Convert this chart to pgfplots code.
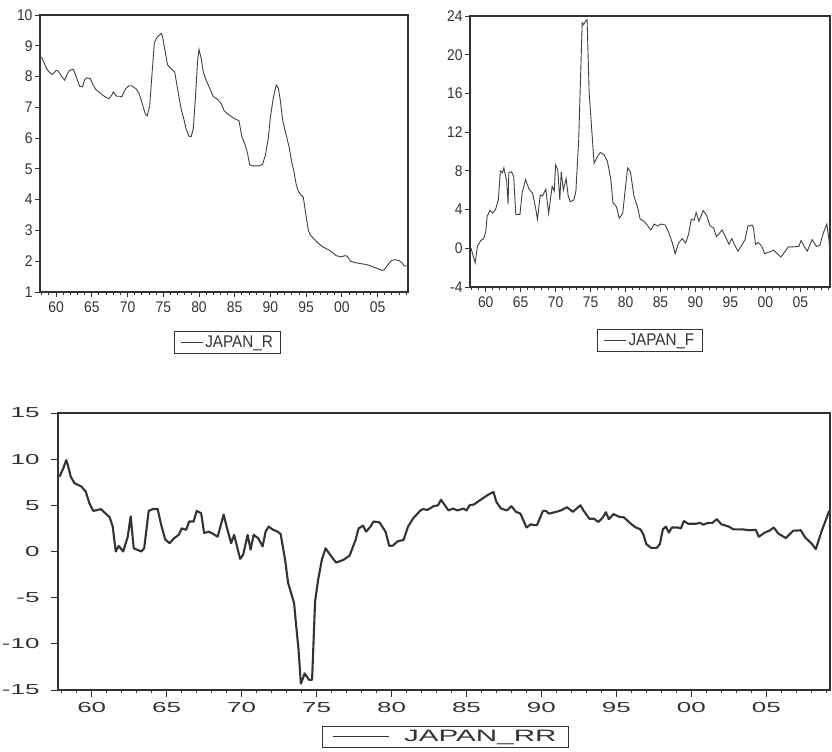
\documentclass[border=0pt]{standalone}
\usepackage{fontspec}
\setmainfont{Liberation Sans}
\newfontfamily\narrowfont[FakeStretch=0.9]{Liberation Sans}
\newfontfamily\widefont[FakeStretch=1.8]{Liberation Sans}
\usepackage{pgfplots}
\pgfplotsset{compat=1.18}

\definecolor{ink}{HTML}{333333}
\definecolor{trace}{HTML}{404040}

\pgfplotsset{
  ev/.style={
    scale only axis,
    anchor=south west,
    axis line style={ink, line width=1.1bp},
    tick align=outside,
    tick pos=left,
    xmin=1957.75, xmax=2009.25,
    xtick={1960,1965,...,2005},
    xticklabels={60,65,70,75,80,85,90,95,00,05},
    minor xtick={1958,...,2009},
    major tick length=5bp,
    minor tick length=3bp,
    every tick/.style={ink, line width=0.9bp},
    legend cell align=left,
  },
  evtop/.style={
    ev,
    tick label style={font=\narrowfont\fontsize{15.5}{15.5}\selectfont, text=ink},
    xticklabel style={yshift=-1bp},
    yticklabel style={xshift=1bp},
    legend style={draw=ink, line width=0.8bp, anchor=north,
      font=\narrowfont\fontsize{17}{17}\selectfont, text=ink,
      inner xsep=6bp, inner ysep=2.5bp},
    legend image code/.code={\draw[trace, line width=0.8bp] (0bp,0bp) -- (22bp,0bp);},
  },
  evbottom/.style={
    ev,
    major tick length=7bp,
    tick label style={font=\widefont\fontsize{14.5}{14.5}\selectfont, text=ink},
    yticklabel style={xshift=-8bp},
    xticklabel style={yshift=-2bp},
    legend style={draw=ink, line width=1bp, anchor=north,
      font=\widefont\fontsize{16.5}{16.5}\selectfont, text=ink,
      inner xsep=10bp, inner ysep=2bp},
    legend image code/.code={\draw[ink, line width=1bp] (0bp,0bp) -- (56bp,0bp);
      \path (68bp,0bp);},
  },
}

\begin{document}
\begin{tikzpicture}
\useasboundingbox (0bp,0bp) rectangle (832bp,752bp);

% ---------- interest rate ----------
\begin{axis}[evtop, at={(40bp,460bp)}, width=368bp, height=277bp,
  ymin=1, ymax=10, ytick={1,...,10},
  yticklabels={1,2,3,4,5,6,7,8,9,10},
  legend style={at={(0.51,-0.14)}}]
\addplot[trace, line width=0.9bp] coordinates {
(1957.75,8.65)(1958.0,8.62)(1958.3,8.45)(1958.7,8.25)(1959.1,8.13)(1959.5,8.07)
(1960.0,8.2)(1960.3,8.18)(1960.8,8.0)(1961.2,7.88)(1961.6,8.1)(1961.9,8.2)
(1962.4,8.24)(1962.8,8.0)(1963.3,7.68)(1963.7,7.67)(1964.0,7.9)(1964.3,7.96)
(1964.8,7.93)(1965.2,7.72)(1965.6,7.57)(1966.0,7.5)(1966.5,7.4)(1967.0,7.32)
(1967.4,7.28)(1967.8,7.4)(1968.0,7.5)(1968.5,7.36)(1968.9,7.36)(1969.2,7.34)
(1969.5,7.5)(1969.8,7.62)(1970.2,7.7)(1970.6,7.7)(1971.2,7.6)(1971.6,7.45)
(1971.9,7.25)(1972.2,7.0)(1972.5,6.78)(1972.75,6.72)(1973.1,7.05)(1973.4,8.0)
(1973.75,9.1)(1974.1,9.26)(1974.5,9.36)(1974.7,9.4)(1974.9,9.3)(1975.2,8.9)
(1975.6,8.38)(1976.1,8.25)(1976.6,8.15)(1977.0,7.6)(1977.5,6.95)(1977.9,6.6)
(1978.2,6.3)(1978.6,6.06)(1978.9,6.05)(1979.2,6.3)(1979.5,7.3)(1979.8,8.5)
(1980.0,8.88)(1980.3,8.6)(1980.6,8.15)(1981.0,7.88)(1981.5,7.62)(1982.0,7.35)
(1982.5,7.28)(1983.1,7.13)(1983.5,6.9)(1983.9,6.8)(1984.7,6.67)(1985.6,6.56)
(1986.0,6.05)(1986.5,5.75)(1986.8,5.5)(1987.1,5.13)(1987.5,5.1)(1988.0,5.1)
(1988.5,5.1)(1988.9,5.15)(1989.3,5.45)(1989.7,6.0)(1990.0,6.7)(1990.4,7.3)
(1990.8,7.72)(1991.1,7.63)(1991.4,7.2)(1991.7,6.6)(1992.1,6.2)(1992.6,5.72)
(1993.0,5.2)(1993.3,4.9)(1993.6,4.5)(1993.9,4.27)(1994.3,4.15)(1994.6,4.08)
(1994.9,3.6)(1995.3,3.0)(1995.6,2.85)(1996.1,2.72)(1996.6,2.6)(1997.3,2.47)
(1998.2,2.36)(1998.7,2.28)(1999.2,2.18)(1999.9,2.14)(2000.4,2.18)(2000.7,2.17)
(2001.2,2.0)(2001.6,1.97)(2002.4,1.93)(2003.2,1.9)(2003.8,1.87)(2004.5,1.8)
(2005.0,1.76)(2005.6,1.7)(2005.9,1.72)(2006.4,1.87)(2006.9,2.02)(2007.4,2.05)
(2008.0,2.02)(2008.4,1.95)(2008.7,1.85)(2009.2,1.84)
};
\addlegendentry{JAPAN\_R}
\end{axis}

% ---------- inflation ----------
\begin{axis}[evtop, at={(470bp,465bp)}, width=360bp, height=271bp,
  ymin=-4, ymax=24, ytick={-4,0,...,24},
  yticklabels={-4,0,4,8,12,16,20,24},
  legend style={at={(0.5,-0.155)}}]
\addplot[trace, line width=0.9bp] coordinates {
(1957.9,0.0)(1958.2,-0.8)(1958.5,-1.5)(1958.8,0.2)(1959.3,0.8)(1959.7,1.0)
(1960.0,1.7)(1960.2,3.3)(1960.6,3.9)(1961.0,3.65)(1961.4,4.0)(1961.8,5.0)
(1962.1,8.0)(1962.4,7.8)(1962.6,8.3)(1963.0,6.9)(1963.2,4.6)(1963.3,7.8)
(1963.7,7.9)(1964.0,7.4)(1964.3,3.5)(1964.9,3.5)(1965.2,5.7)(1965.7,7.1)
(1966.2,6.1)(1966.7,5.7)(1967.1,4.3)(1967.4,3.0)(1967.8,5.5)(1968.1,5.4)
(1968.6,6.1)(1969.0,3.6)(1969.5,6.4)(1969.8,5.9)(1970.0,8.6)(1970.3,8.1)
(1970.6,5.0)(1970.8,7.9)(1971.1,6.0)(1971.5,7.2)(1971.8,5.4)(1972.1,4.8)
(1972.6,5.0)(1972.9,5.9)(1973.3,11.2)(1973.8,23.3)(1974.0,23.1)(1974.3,23.5)
(1974.5,23.6)(1974.8,16.0)(1975.5,8.8)(1976.0,9.5)(1976.4,9.9)(1976.9,9.7)
(1977.4,9.0)(1977.9,7.1)(1978.2,4.7)(1978.7,4.3)(1979.1,3.1)(1979.6,3.6)
(1980.0,6.4)(1980.3,8.3)(1980.7,7.9)(1981.2,5.4)(1981.7,4.3)(1982.1,3.0)
(1982.6,2.8)(1983.1,2.4)(1983.6,1.9)(1983.8,2.1)(1984.1,2.5)(1984.6,2.3)
(1985.0,2.5)(1985.7,2.4)(1986.2,1.6)(1986.7,0.55)(1987.1,-0.55)(1987.6,0.55)
(1988.1,1.0)(1988.6,0.55)(1989.0,1.4)(1989.4,3.0)(1989.8,2.9)(1990.1,3.7)
(1990.5,2.8)(1991.1,3.9)(1991.6,3.4)(1992.1,2.3)(1992.6,2.1)(1993.0,1.2)
(1993.5,1.6)(1993.8,1.9)(1994.3,1.2)(1994.8,0.4)(1995.2,1.0)(1995.7,0.2)
(1996.1,-0.3)(1996.7,0.4)(1997.1,0.9)(1997.5,2.3)(1998.1,2.4)(1998.3,2.1)
(1998.6,0.4)(1999.0,0.6)(1999.5,0.2)(1999.9,-0.55)(2000.5,-0.4)(2001.2,-0.2)
(2001.7,-0.55)(2002.2,-0.9)(2002.6,-0.55)(2003.3,0.15)(2004.0,0.15)(2004.8,0.2)
(2005.1,0.8)(2005.5,0.3)(2006.0,-0.3)(2006.7,0.9)(2007.3,0.2)(2007.8,0.3)
(2008.3,1.6)(2008.8,2.5)(2009.1,0.9)(2009.25,-0.5)
};
\addlegendentry{JAPAN\_F}
\end{axis}

% ---------- real rate ----------
\begin{axis}[evbottom, at={(58bp,62bp)}, width=772bp, height=277bp,
  ymin=-15, ymax=15, ytick={-15,-10,...,15},
  yticklabels={-15,-10,-5,0,5,10,15},
  legend style={at={(0.502,-0.13)}}]
\addplot[ink, line width=2.1bp, line join=round] coordinates {
(1957.85,8.1)(1958.1,9.0)(1958.3,9.9)(1958.4,9.4)(1958.6,8.1)(1958.85,7.4)
(1959.3,7.05)(1959.6,6.5)(1959.85,5.2)(1960.1,4.4)(1960.4,4.5)(1960.6,4.6)
(1961.0,4.0)(1961.2,3.7)(1961.4,2.7)(1961.6,0.0)(1961.8,0.6)(1962.1,0.0)
(1962.4,1.6)(1962.6,3.8)(1962.8,0.35)(1963.3,0.0)(1963.5,0.35)(1963.8,4.4)
(1964.1,4.6)(1964.4,4.6)(1964.6,3.1)(1964.9,1.3)(1965.2,0.9)(1965.5,1.45)
(1965.8,1.8)(1966.0,2.5)(1966.3,2.35)(1966.5,3.25)(1966.8,3.25)(1967.0,4.4)
(1967.3,4.15)(1967.5,2.0)(1967.8,2.15)(1968.0,2.0)(1968.4,1.6)(1968.8,4.0)
(1969.0,2.7)(1969.3,0.9)(1969.5,1.8)(1969.9,-0.8)(1970.1,-0.35)(1970.4,1.8)
(1970.6,0.2)(1970.8,1.8)(1971.1,1.45)(1971.4,0.55)(1971.6,2.15)(1971.8,2.7)
(1972.1,2.35)(1972.4,2.15)(1972.6,1.9)(1972.9,-0.9)(1973.1,-3.4)(1973.5,-5.6)
(1973.6,-7.4)(1973.8,-10.7)(1973.95,-14.3)(1974.1,-13.7)(1974.2,-13.2)(1974.5,-13.9)
(1974.7,-13.9)(1974.9,-5.4)(1975.1,-3.1)(1975.35,-0.9)(1975.6,0.35)(1975.9,-0.35)
(1976.3,-1.2)(1976.8,-0.9)(1977.2,-0.45)(1977.6,1.25)(1977.8,2.5)(1978.1,2.8)
(1978.3,2.15)(1978.6,2.7)(1978.8,3.25)(1979.2,3.15)(1979.6,2.15)(1979.85,0.6)
(1980.1,0.65)(1980.4,1.1)(1980.8,1.25)(1981.1,2.7)(1981.45,3.6)(1981.9,4.4)
(1982.1,4.6)(1982.4,4.5)(1982.8,4.9)(1983.1,5.0)(1983.3,5.6)(1983.8,4.45)
(1984.1,4.65)(1984.4,4.45)(1984.8,4.65)(1985.0,4.45)(1985.2,5.0)(1985.5,5.1)
(1985.9,5.55)(1986.4,6.1)(1986.8,6.45)(1987.0,5.35)(1987.3,4.65)(1987.7,4.45)
(1988.0,4.9)(1988.3,4.3)(1988.6,4.1)(1989.0,2.6)(1989.3,2.95)(1989.5,2.85)
(1989.7,2.85)(1990.1,4.4)(1990.3,4.4)(1990.5,4.1)(1991.0,4.3)(1991.3,4.45)
(1991.7,4.8)(1992.1,4.3)(1992.6,5.0)(1992.8,4.45)(1993.2,3.55)(1993.5,3.55)
(1993.8,3.2)(1994.1,3.7)(1994.3,4.25)(1994.5,3.5)(1994.8,4.05)(1995.2,3.75)
(1995.5,3.7)(1996.0,2.95)(1996.3,2.6)(1996.6,2.4)(1996.8,1.85)(1997.0,0.8)
(1997.3,0.4)(1997.7,0.4)(1997.9,0.8)(1998.1,2.4)(1998.3,2.7)(1998.5,2.05)
(1998.7,2.6)(1999.1,2.6)(1999.3,2.5)(1999.5,3.3)(1999.8,3.0)(2000.3,3.0)
(2000.6,3.1)(2000.8,2.9)(2001.1,3.1)(2001.4,3.1)(2001.7,3.5)(2002.0,2.95)
(2002.5,2.7)(2002.8,2.4)(2003.4,2.4)(2003.9,2.3)(2004.3,2.35)(2004.5,1.6)
(2004.9,2.05)(2005.2,2.25)(2005.5,2.6)(2005.8,1.95)(2006.3,1.45)(2006.8,2.25)
(2007.3,2.3)(2007.6,1.5)(2008.0,0.9)(2008.3,0.25)(2008.7,2.25)(2009.2,4.4)
};
\addlegendentry{JAPAN\_RR}
\end{axis}
\end{tikzpicture}
\end{document}
